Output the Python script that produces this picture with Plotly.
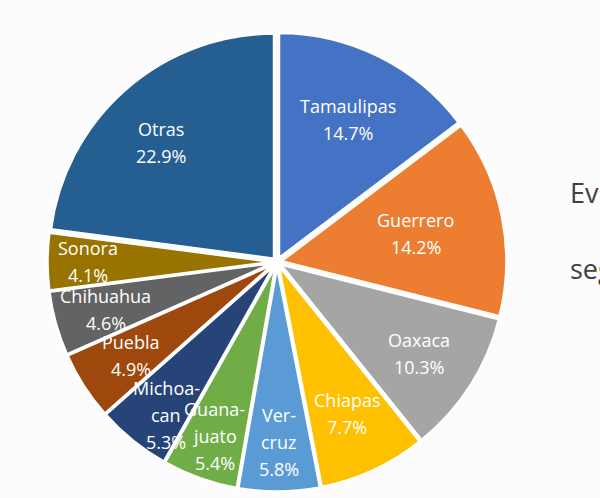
import math
import plotly.graph_objects as go

# Share of cases by state (percent)
states = ["Tamaulipas", "Guerrero", "Oaxaca", "Chiapas", "Veracruz", "Guanajuato",
          "Michoacán", "Puebla", "Chihuahua", "Sonora", "Otras"]
label_lines = [["Tamaulipas"], ["Guerrero"], ["Oaxaca"], ["Chiapas"], ["Ver-", "cruz"],
               ["Guana-", "juato"], ["Michoa-", "can"], ["Puebla"], ["Chihuahua"],
               ["Sonora"], ["Otras"]]
shares = [14.7, 14.2, 10.3, 7.7, 5.8, 5.4, 5.3, 4.9, 4.6, 4.1, 22.9]

colors = ["#4472C4", "#ED7D31", "#A5A5A5", "#FFC000", "#5B9BD5", "#70AD47",
          "#264478", "#9E480E", "#636363", "#997300", "#255E91"]

W, H = 600, 498
CX, CY = 277, 262          # pie centre in pixels (from top-left)
R = 225                    # pie radius in pixels
PULL = 0.02
half = R * (1 + PULL)

# placement of each in-slice label: radius fraction and angular nudge (degrees)
label_r = [0.71, 0.63, 0.75, 0.74, 0.80, 0.82, 0.84, 0.77, 0.79, 0.84, 0.74]
label_dang = [0, 0, 0, 0, 0, 0, -3, 0, 0, 0, -3]
LINE_H = 27
FONT = "Open Sans"

fig = go.Figure(go.Pie(
    labels=states,
    values=shares,
    sort=False,
    direction="clockwise",
    rotation=0,
    pull=PULL,
    marker=dict(colors=colors, line=dict(color="#ffffff", width=2.5)),
    textinfo="none",
    hoverinfo="label+percent",
    showlegend=False,
    domain=dict(x=[(CX - half) / W, (CX + half) / W],
                y=[(H - CY - half) / H, (H - CY + half) / H]),
))

annotations = []
total = sum(shares)
cum = 0.0
for lines, v, rf, da in zip(label_lines, shares, label_r, label_dang):
    theta = 2 * math.pi * (cum + v / 2) / total + math.radians(da)
    cum += v
    px = CX + rf * R * math.sin(theta)
    py = CY - rf * R * math.cos(theta)
    rows = lines + [f"{v:.1f}%"]
    n = len(rows)
    for i, row in enumerate(rows):
        off = (i - (n - 1) / 2) * LINE_H
        annotations.append(dict(
            x=px / W, y=1 - py / H, xref="paper", yref="paper",
            text=row, showarrow=False, xanchor="center", yanchor="middle",
            yshift=-off, font=dict(family=FONT, size=18, color="#ffffff"),
        ))

# side text running off the right edge
for txt, ty in [("Ev", 193), ("seg", 268)]:
    annotations.append(dict(
        x=568 / W, y=1 - ty / H, xref="paper", yref="paper", text=txt,
        showarrow=False, xanchor="left", yanchor="middle",
        font=dict(family=FONT, size=27, color="#404040"),
    ))

fig.update_layout(
    width=W, height=H,
    margin=dict(l=0, r=0, t=0, b=0),
    paper_bgcolor="#fcfcfc",
    plot_bgcolor="#fcfcfc",
    annotations=annotations,
)

fig.write_html("out.html")
